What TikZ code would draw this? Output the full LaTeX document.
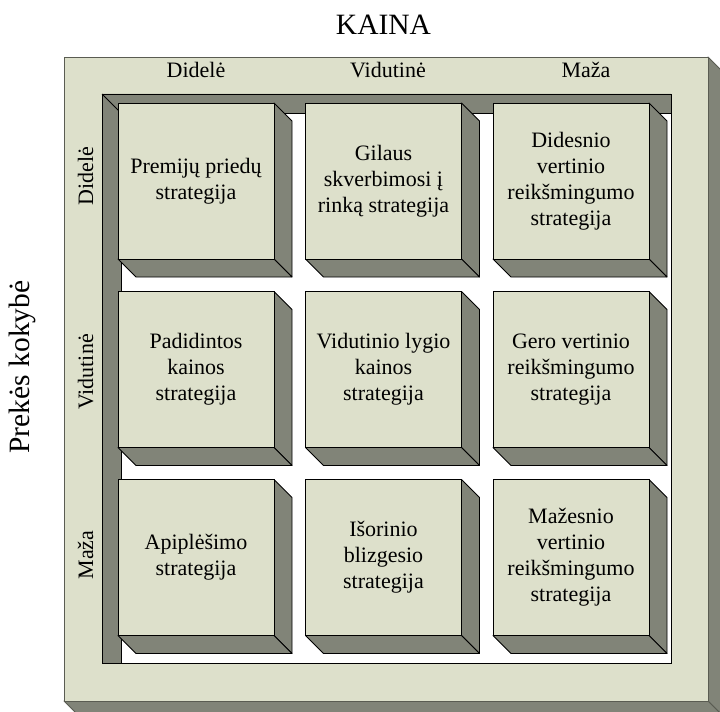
\documentclass[tikz,border=0pt]{standalone}
\usepackage{fontspec}
\setmainfont{Liberation Serif}
\definecolor{facecol}{RGB}{221,224,203}
\definecolor{sidecol}{RGB}{129,132,120}
\definecolor{rimcol}{RGB}{90,92,82}
\begin{document}
\begin{tikzpicture}[x=1bp,y=-1bp,
  face/.style={fill=facecol,draw=black,line width=0.8bp},
  side/.style={fill=sidecol,draw=black,line width=0.8bp,line join=round},
  rimface/.style={fill=facecol,draw=rimcol,line width=0.9bp},
  rimside/.style={fill=sidecol,draw=rimcol,line width=0.9bp,line join=round},
  celltext/.style={align=center,text=black,inner sep=0pt,
    font=\fontsize{22bp}{26bp}\selectfont},
  axislabel/.style={anchor=base,inner sep=0pt,
    font=\fontsize{22bp}{26bp}\selectfont},
  bigtitle/.style={anchor=base,inner sep=0pt,
    font=\fontsize{29.5bp}{34bp}\selectfont},
  pics/cube/.style={code={
    \draw[side] (156,0) -- (174,18) -- (174,174) -- (156,156) -- cycle;
    \draw[side] (0,156) -- (156,156) -- (174,174) -- (18,174) -- cycle;
    \draw[face] (0,0) rectangle (156,156);
  }}]
\useasboundingbox (0,0) rectangle (720,712);
\clip (0,0) rectangle (720,712);

% outer raised frame (its depth runs past the page edge)
\draw[rimside] (708,57) -- (722,71) -- (722,715) -- (708,701) -- cycle;
\draw[rimside] (64,701) -- (708,701) -- (722,715) -- (78,715) -- cycle;
\draw[rimface] (64,57) rectangle (708,701);

% recessed inner well
\draw[fill=white,draw=black,line width=0.8bp] (102,94) rectangle (671,663);
\draw[side] (102,94) -- (671,94) -- (671,113) -- (121,113) -- (121,663) -- (102,663) -- cycle;
\draw[black,line width=0.8bp] (102,94) -- (121,113);

% nine strategy blocks
\foreach \cx in {118,305.5,493}
  \foreach \cy in {103,291.5,479.5}
    \pic at (\cx,\cy) {cube};

% block texts
\node[celltext] (c11) at (196,181)   {Premijų priedų\\strategija};
\node[celltext] (c12) at (383.5,181) {Gilaus\\skverbimosi į\\rinką strategija};
\node[celltext] (c13) at (571,181)   {Didesnio\\vertinio\\reikšmingumo\\strategija};
\node[celltext] (c21) at (196,369.5)   {Padidintos\\kainos\\strategija};
\node[celltext] (c22) at (383.5,369.5) {Vidutinio lygio\\kainos\\strategija};
\node[celltext] (c23) at (571,369.5)   {Gero vertinio\\reikšmingumo\\strategija};
\node[celltext] (c31) at (196,557.5)   {Apiplėšimo\\strategija};
\node[celltext] (c32) at (383.5,557.5) {Išorinio\\blizgesio\\strategija};
\node[celltext] (c33) at (571,557.5)   {Mažesnio\\vertinio\\reikšmingumo\\strategija};

% price axis
\node[bigtitle] (price) at (383.5,35) {KAINA};
\node[axislabel] (pHigh) at (196,78) {Didelė};
\node[axislabel] (pMid)  at (388,78) {Vidutinė};
\node[axislabel] (pLow)  at (586,78) {Maža};

% quality axis
\node[bigtitle,rotate=90] (quality) at (29,367) {Prekės kokybė};
\node[axislabel,rotate=90] (qHigh) at (93,176) {Didelė};
\node[axislabel,rotate=90] (qMid)  at (93,372) {Vidutinė};
\node[axislabel,rotate=90] (qLow)  at (93,555) {Maža};
\end{tikzpicture}
\end{document}
